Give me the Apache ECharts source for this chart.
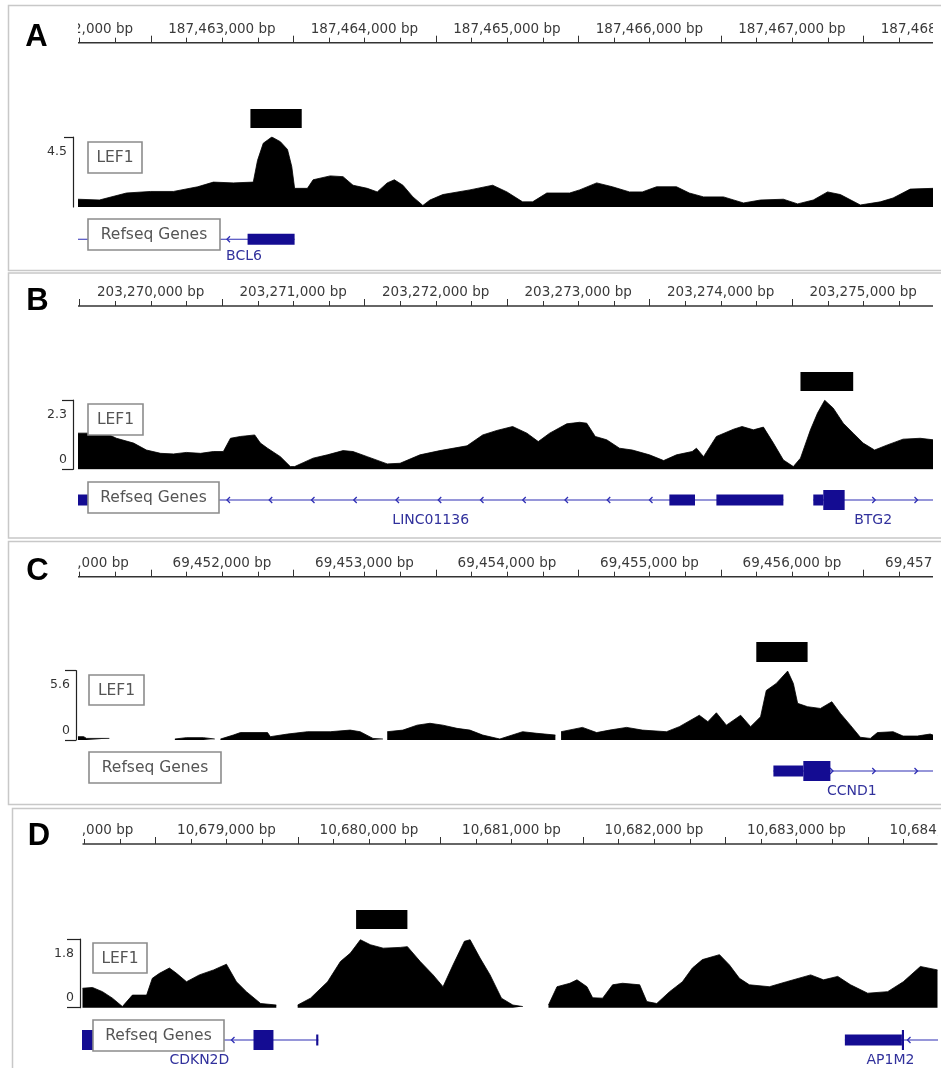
<!DOCTYPE html>
<html>
<head>
<meta charset="utf-8">
<script src="https://cdn.jsdelivr.net/npm/echarts@6/dist/echarts.min.js"></script>
<style>
html, body { margin: 0; padding: 0; background: #fff; }
#chart { width: 941px; height: 1068px; }
</style>
</head>
<body>
<div id="chart"></div>
<script>
// ---------- Track data (positions are bp from the window start) ----------

// A: BCL6 locus
const A_window = [187461990, 187467990];
const A_rulerMarks = [187462000, 187463000, 187464000, 187465000, 187466000, 187467000, 187468000];
const A_range = 4.5;
const A_peak = [1210, 1570];
const A_signalPos = [0,150,340,510,670,840,950,1090,1230,1260,1300,1360,1420,1470,1500,1520,1610,1650,1770,1860,1930,2030,2100,2170,2220,2280,2350,2420,2470,2560,2750,2910,3010,3120,3190,3290,3450,3520,3640,3750,3870,3960,4060,4200,4290,4390,4530,4670,4790,4950,5050,5160,5260,5350,5490,5630,5720,5840,6000];
const A_signalVal = [0.5,0.45,0.9,1.0,1.0,1.3,1.6,1.55,1.6,3.0,4.1,4.5,4.2,3.7,2.6,1.2,1.2,1.75,2.0,1.95,1.4,1.2,0.97,1.55,1.75,1.4,0.65,0.1,0.45,0.8,1.1,1.4,0.97,0.33,0.33,0.9,0.9,1.1,1.55,1.3,0.97,0.97,1.3,1.3,0.9,0.65,0.65,0.26,0.45,0.5,0.2,0.45,0.97,0.8,0.13,0.33,0.58,1.15,1.2];
const A_genes = [
  { name: 'BCL6', strand: '-', span: [-200, 1520], exons: [[1190, 1520, 'utr']], labelAt: 1165 }
];

// B: BTG2 locus
const B_window = [203269490, 203275490];
const B_rulerMarks = [203269000, 203270000, 203271000, 203272000, 203273000, 203274000, 203275000, 203276000];
const B_range = 2.3;
const B_peak = [5070, 5440];
const B_signalPos = [0,80,220,270,390,480,580,670,760,860,950,1020,1070,1140,1240,1280,1330,1420,1490,1520,1580,1650,1750,1860,1930,2030,2170,2260,2400,2540,2730,2840,2940,3050,3150,3230,3310,3430,3520,3570,3630,3710,3800,3890,4010,4110,4200,4310,4340,4390,4480,4600,4660,4740,4810,4880,4950,5020,5070,5140,5190,5240,5300,5370,5440,5510,5590,5680,5790,5910,6000];
const B_signalVal = [1.2,1.2,1.14,1.03,0.87,0.64,0.53,0.51,0.56,0.53,0.59,0.59,1.03,1.09,1.14,0.87,0.7,0.42,0.09,0.09,0.22,0.37,0.48,0.62,0.59,0.42,0.18,0.2,0.48,0.62,0.78,1.14,1.29,1.42,1.2,0.92,1.2,1.51,1.56,1.53,1.09,0.98,0.7,0.64,0.48,0.29,0.48,0.59,0.7,0.42,1.09,1.33,1.42,1.31,1.4,0.87,0.31,0.09,0.37,1.31,1.87,2.29,2.03,1.53,1.2,0.87,0.64,0.81,1.0,1.03,0.98];
const B_genes = [
  { name: 'LINC01136', strand: '-', span: [-200, 4950], exons: [[-200, 120, 'utr'], [4150, 4330, 'utr'], [4480, 4950, 'utr']], labelAt: 2475 },
  { name: 'BTG2', strand: '+', span: [5160, 6300], exons: [[5160, 5230, 'utr'], [5230, 5380, 'cds']], labelAt: 5580 }
];

// C: CCND1 locus (null = no coverage)
const C_window = [69450990, 69456990];
const C_rulerMarks = [69451000, 69452000, 69453000, 69454000, 69455000, 69456000, 69457000];
const C_range = 5.6;
const C_peak = [4760, 5120];
const C_signalPos = [0,40,60,220,230,680,760,880,960,980,1000,1090,1140,1330,1350,1470,1610,1770,1910,1980,2070,2140,2155,2170,2280,2380,2470,2560,2660,2750,2840,2960,3120,3220,3350,3370,3390,3540,3640,3730,3850,3960,4130,4220,4360,4420,4480,4550,4650,4720,4790,4830,4900,4980,5020,5050,5120,5210,5290,5350,5420,5490,5560,5610,5720,5790,5890,5980,6000];
const C_signalVal = [0.27,0.27,0.13,0.13,null,0.08,0.19,0.19,0.08,null,0.08,0.4,0.6,0.6,0.27,0.48,0.67,0.67,0.8,0.67,0.13,0.08,null,0.67,0.8,1.2,1.35,1.2,0.94,0.8,0.4,0.08,0.67,0.54,0.4,null,0.67,1.02,0.6,0.8,1.02,0.8,0.67,1.08,2.0,1.48,2.2,1.2,2.0,1.08,1.88,4.0,4.57,5.57,4.57,2.96,2.69,2.55,3.09,2.15,1.2,0.22,0.13,0.6,0.67,0.32,0.32,0.48,0.4];
const C_genes = [
  { name: 'CCND1', strand: '+', span: [4880, 6300], exons: [[4880, 5090, 'utr'], [5090, 5280, 'cds']], labelAt: 5430 }
];

// D: CDKN2D / AP1M2 locus (null = no coverage)
const D_window = [10677990, 10683990];
const D_rulerMarks = [10677000, 10678000, 10679000, 10680000, 10681000, 10682000, 10683000, 10684000];
const D_range = 1.8;
const D_peak = [1920, 2280];
const D_signalPos = [0,70,140,210,280,350,450,490,540,610,660,730,820,920,1010,1080,1150,1250,1360,1430,1510,1600,1720,1810,1880,1950,2020,2110,2230,2280,2370,2460,2530,2600,2680,2720,2790,2860,2940,3020,3090,3180,3270,3330,3420,3470,3540,3580,3650,3720,3790,3910,3960,4030,4120,4210,4280,4350,4470,4540,4610,4680,4820,4940,5110,5200,5300,5390,5510,5650,5760,5880,6000];
const D_signalVal = [0.51,0.53,0.42,0.25,0.03,0.33,0.33,0.77,0.9,1.04,0.9,0.68,0.86,0.99,1.14,0.68,0.42,0.11,0.07,null,0.07,0.25,0.68,1.21,1.43,1.78,1.65,1.56,1.58,1.6,1.21,0.86,0.55,1.12,1.74,1.78,1.3,0.86,0.25,0.07,0.03,null,0.07,0.55,0.64,0.73,0.55,0.26,0.25,0.6,0.64,0.6,0.16,0.11,0.42,0.68,1.04,1.26,1.39,1.12,0.77,0.6,0.55,0.68,0.86,0.73,0.82,0.6,0.38,0.42,0.68,1.08,0.99];
const D_genes = [
  { name: 'CDKN2D', strand: '-', span: [-200, 1655], exons: [[-200, 130, 'cds'], [1200, 1340, 'cds'], [1640, 1655, 'utr']], labelAt: 820 },
  { name: 'AP1M2', strand: '-', span: [5350, 6300], exons: [[5350, 5750, 'utr'], [5750, 5765, 'cds']], labelAt: 5670 }
];

// ---------- Page layout (pixels) ----------
const panels = [
  { letter: 'A', win: A_window, marks: A_rulerMarks, range: A_range, peak: A_peak, pos: A_signalPos, val: A_signalVal, genes: A_genes,
    L: { frame: [8.5, 5.5, 960, 265], letterAt: [36.5, 37], left: 78, ruler: 42.7, peak: [109, 19], signal: [137, 70], gene: 239.3, geneLabel: 17,
         lef1: [88, 142, 54, 31], refseq: [88, 219, 132, 31], bracketOff: 5, tickLen: 9, zero: false } },
  { letter: 'B', win: B_window, marks: B_rulerMarks, range: B_range, peak: B_peak, pos: B_signalPos, val: B_signalVal, genes: B_genes,
    L: { frame: [8.5, 273, 960, 265], letterAt: [37.5, 301], left: 78, ruler: 306, peak: [372, 19], signal: [400, 69.3], gene: 500, geneLabel: 20.5,
         lef1: [88, 404, 55, 31], refseq: [88, 482, 131, 31], bracketOff: 5, tickLen: 11, zero: true } },
  { letter: 'C', win: C_window, marks: C_rulerMarks, range: C_range, peak: C_peak, pos: C_signalPos, val: C_signalVal, genes: C_genes,
    L: { frame: [8.5, 541.5, 960, 263], letterAt: [37.5, 571], left: 78, ruler: 576.7, peak: [642, 20], signal: [670.7, 69.3], gene: 771, geneLabel: 20.5,
         lef1: [89, 675, 55, 30], refseq: [89, 752, 132, 31], bracketOff: 2, tickLen: 11, zero: true } },
  { letter: 'D', win: D_window, marks: D_rulerMarks, range: D_range, peak: D_peak, pos: D_signalPos, val: D_signalVal, genes: D_genes,
    L: { frame: [12.5, 808.5, 960, 300], letterAt: [39, 836], left: 82.5, ruler: 844, peak: [910, 19], signal: [939, 68.7], gene: 1040, geneLabel: 20.5,
         lef1: [93, 943, 54, 30], refseq: [93, 1020, 131, 31], bracketOff: 2.5, tickLen: 13, zero: true } }
];

const TRACK_W = 855;
const EXON = '#140c92';
const INTRON = '#2e2eb4';
const GENE_TEXT = '#31319c';
const FONT = '"DejaVu Sans", "Noto Sans", sans-serif';
const ARROW_STEP = 42.25;

const fmtBp = n => n.toString().replace(/\B(?=(\d{3})+(?!\d))/g, ',') + ' bp';

// Ruler: base line, 250 bp ticks (500 bp ticks taller) and kb labels
function rulerRenderer(win, marks) {
  return function (params, api) {
    const cs = params.coordSys;
    const base = cs.y + cs.height - 1.5;
    const ch = [{ type: 'line', shape: { x1: cs.x, y1: base, x2: cs.x + cs.width, y2: base },
                  style: { stroke: '#333', lineWidth: 1.6 } }];
    const first = Math.ceil((win[0] - 1000) / 250) * 250;
    for (let bp = first; bp <= win[1] + 1000; bp += 250) {
      const x = Math.round(api.coord([bp, 0])[0]) + 0.5;
      const h = (bp % 1000 === 500) ? 7 : 5;
      ch.push({ type: 'line', shape: { x1: x, y1: base, x2: x, y2: base - h }, style: { stroke: '#333', lineWidth: 1 } });
    }
    marks.forEach(m => {
      ch.push({ type: 'text', x: api.coord([m, 0])[0], y: base - 13.5,
                style: { text: fmtBp(m), font: '13.5px ' + FONT, fill: '#3a3a3a', align: 'center', verticalAlign: 'middle' } });
    });
    return { type: 'group', children: ch };
  };
}

// Peak call: a solid block spanning the called region
function peakRenderer(win, peak) {
  return function (params, api) {
    const cs = params.coordSys;
    const x1 = api.coord([win[0] + peak[0], 0])[0];
    const x2 = api.coord([win[0] + peak[1], 0])[0];
    return { type: 'rect', shape: { x: x1, y: cs.y, width: x2 - x1, height: cs.height }, style: { fill: '#000' } };
  };
}

// Gene model: intron line with strand chevrons, exon blocks, gene name
function geneRenderer(win, genes, L) {
  return function (params, api) {
    const g = genes[params.dataIndex];
    const cs = params.coordSys;
    const cy = cs.y + 15;
    const X = off => api.coord([win[0] + off, 0])[0];
    const s = X(g.span[0]), e = X(g.span[1]);
    const ex = g.exons.map(([a, b, t]) => [X(a), X(b), t]);
    const ch = [{ type: 'line', shape: { x1: s, y1: cy, x2: e, y2: cy }, style: { stroke: INTRON, lineWidth: 1.1 } }];
    const phase = g.strand === '+' ? 36.75 : 22.25;
    const d = g.strand === '+' ? -3 : 3;
    for (let x = cs.x + phase; x < cs.x + cs.width; x += ARROW_STEP) {
      if (x < s + 2 || x > e - 2) continue;
      if (ex.some(([a, b]) => x >= a - 1 && x <= b + 1)) continue;
      ch.push({ type: 'polyline', shape: { points: [[x + d, cy - 3], [x, cy], [x + d, cy + 3]] },
                style: { stroke: INTRON, lineWidth: 1.3, fill: null } });
    }
    ex.forEach(([a, b, t]) => {
      const h = t === 'cds' ? 20 : 11;
      ch.push({ type: 'rect', shape: { x: a, y: cy - h / 2, width: Math.max(b - a, 2), height: h }, style: { fill: EXON } });
    });
    ch.push({ type: 'text', x: X(g.labelAt), y: cy + L.geneLabel,
              style: { text: g.name, font: '14px ' + FONT, fill: GENE_TEXT, align: 'center', verticalAlign: 'middle' } });
    return { type: 'group', children: ch };
  };
}

const grid = [], xAxis = [], yAxis = [], series = [], elements = [];

function addGrid(left, top, height, win, yCfg) {
  const i = grid.length;
  grid.push({ left: left, top: top, width: TRACK_W, height: height, containLabel: false, outerBoundsMode: 'none' });
  xAxis.push({ gridIndex: i, type: 'value', min: win[0], max: win[1], show: false });
  yAxis.push(Object.assign({ gridIndex: i, type: 'value', min: 0, max: 1, show: false }, yCfg || {}));
  return i;
}

function labelBox(rect, text) {
  elements.push({ type: 'rect', z: 100, silent: true, shape: { x: rect[0], y: rect[1], width: rect[2], height: rect[3] },
                  style: { fill: '#fff', stroke: '#8c8c8c', lineWidth: 1.6 } });
  elements.push({ type: 'text', z: 101, silent: true, x: rect[0] + rect[2] / 2, y: rect[1] + rect[3] / 2 + 0.5,
                  style: { text: text, font: '15.5px ' + FONT, fill: '#555', align: 'center', verticalAlign: 'middle',
                           textAlign: 'center', textVerticalAlign: 'middle' } });
}

panels.forEach(p => {
  const L = p.L;

  // panel frame and letter
  elements.push({ type: 'rect', z: 0, silent: true, shape: { x: L.frame[0], y: L.frame[1], width: L.frame[2], height: L.frame[3] },
                  style: { fill: 'none', stroke: '#c8c8c8', lineWidth: 1.5 } });
  elements.push({ type: 'text', z: 101, silent: true, x: L.letterAt[0], y: L.letterAt[1],
                  style: { text: p.letter, font: 'bold 31px "Liberation Sans", Arial, sans-serif', fill: '#000',
                           align: 'center', verticalAlign: 'middle', textAlign: 'center', textVerticalAlign: 'middle' } });

  // ruler
  const gR = addGrid(L.left, L.ruler - 28.5, 30, p.win);
  series.push({ type: 'custom', xAxisIndex: gR, yAxisIndex: gR, clip: true, silent: true,
                data: [[p.win[0], 0]], renderItem: rulerRenderer(p.win, p.marks) });

  // peak block
  const gP = addGrid(L.left, L.peak[0], L.peak[1], p.win);
  series.push({ type: 'custom', xAxisIndex: gP, yAxisIndex: gP, clip: true, silent: true,
                data: [[p.win[0] + p.peak[0], 0]], renderItem: peakRenderer(p.win, p.peak) });

  // LEF1 coverage with its data-range bracket
  const gS = addGrid(L.left, L.signal[0], L.signal[1], p.win, {
    show: true, position: 'left', offset: L.bracketOff, min: 0, max: p.range, interval: p.range,
    axisLine: { show: true, onZero: false, lineStyle: { color: '#222', width: 1.2 } },
    axisTick: { show: true, length: L.tickLen, lineStyle: { color: '#222', width: 1.2 } },
    splitLine: { show: false },
    axisLabel: { show: true, margin: 6, fontSize: 12.5, fontFamily: 'DejaVu Sans', color: '#333',
                 showMinLabel: L.zero, showMaxLabel: true,
                 verticalAlignMaxLabel: 'top', verticalAlignMinLabel: 'bottom', padding: [8, 0, 3, 0],
                 formatter: v => String(v) }
  });
  series.push({ type: 'line', xAxisIndex: gS, yAxisIndex: gS, symbol: 'none', silent: true, clip: true,
                connectNulls: false, smooth: false,
                lineStyle: { color: '#000', width: 0.8 }, areaStyle: { color: '#000', opacity: 1 },
                data: p.pos.map((o, i) => [p.win[0] + o, p.val[i] === null ? '-' : p.val[i]]) });

  // RefSeq genes
  const gG = addGrid(L.left, L.gene - 15, 46, p.win);
  series.push({ type: 'custom', xAxisIndex: gG, yAxisIndex: gG, clip: true, silent: true,
                data: p.genes.map(g => [p.win[0] + g.span[0], 0]), renderItem: geneRenderer(p.win, p.genes, L) });

  labelBox(L.lef1, 'LEF1');
  labelBox(L.refseq, 'Refseq Genes');
});

const chart = echarts.init(document.getElementById('chart'), null, { renderer: 'canvas' });
chart.setOption({
  animation: false,
  backgroundColor: '#fff',
  grid: grid, xAxis: xAxis, yAxis: yAxis, series: series,
  graphic: { elements: elements }
});
</script>
</body>
</html>
